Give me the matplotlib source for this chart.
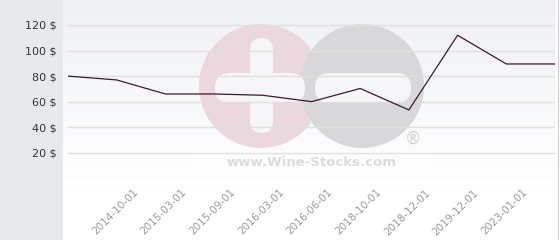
import matplotlib
matplotlib.use("Agg")
import matplotlib.pyplot as plt
import matplotlib.transforms as mtransforms
from matplotlib.patches import Circle, FancyBboxPatch, Rectangle
import numpy as np

# ---- data ----
prices = [80, 77, 66, 66, 65, 60, 70.3, 53.5, 112, 89.5, 89.5]
tick_labels = ["2014-10-01", "2015-03-01", "2015-09-01", "2016-03-01", "2016-06-01",
               "2018-10-01", "2018-12-01", "2019-12-01", "2023-01-01"]
y_ticks = [20, 40, 60, 80, 100, 120]
grid_values = [0, 20, 40, 60, 80, 100, 120]

W, H = 560, 240
fig = plt.figure(figsize=(W / 100, H / 100), dpi=100)
fig.patch.set_facecolor("#ffffff")

def px(x0, y0, x1, y1):
    # convert pixel box (top-left origin) to figure fraction
    return [x0 / W, 1 - y1 / H, (x1 - x0) / W, (y1 - y0) / H]

# left panel
fig.patches.append(Rectangle((0, 0), 63 / W, 1, transform=fig.transFigure,
                             facecolor="#e6eaed", edgecolor="none", zorder=0))
# right border
fig.patches.append(Rectangle((557.5 / W, 0), 1.2 / W, 1, transform=fig.transFigure,
                             facecolor="#c8c8c8", edgecolor="none", zorder=0))

# gradient background
bg = fig.add_axes(px(63, 0, 556, 240), zorder=0)
grad = np.linspace(0, 1, 256).reshape(-1, 1)
top = np.array([0xef, 0xf1, 0xf5]) / 255
bot = np.array([1.0, 1.0, 1.0])
t = np.clip(grad / 0.8, 0, 1)
img = top * (1 - t) + bot * t
img = img.reshape(256, 1, 3)
bg.imshow(img, aspect="auto", extent=[0, 1, 0, 1], origin="upper")
bg.set_axis_off()

# watermark layer in pixel coordinates
wm = fig.add_axes([0, 0, 1, 1], zorder=1)
wm.set_xlim(0, W)
wm.set_ylim(H, 0)
wm.set_axis_off()
wm.patch.set_alpha(0)
pink = "#ebd7de"
gray = "#d8d8db"
hole = "#f6f6f9"
wm.add_patch(Circle((261, 86), 62, facecolor=pink, edgecolor="none"))
wm.add_patch(Circle((362, 86), 62, facecolor=gray, edgecolor="none"))
wm.add_patch(FancyBboxPatch((250, 38), 23, 95, boxstyle="round,pad=0,rounding_size=11.5",
                            facecolor=hole, edgecolor="none"))
wm.add_patch(FancyBboxPatch((215, 73), 90, 30, boxstyle="round,pad=0,rounding_size=15",
                            facecolor=hole, edgecolor="none"))
wm.add_patch(FancyBboxPatch((315, 73), 96, 30, boxstyle="round,pad=0,rounding_size=15",
                            facecolor=hole, edgecolor="none"))
wm.add_patch(Rectangle((197, 152), 232, 22, facecolor="white", alpha=0.6, edgecolor="none"))
wm.text(312, 162, "www.Wine-Stocks.com", ha="center", va="center", fontsize=9.5,
        fontweight="bold", color="#dcdcdc", family="DejaVu Sans")
wm.text(413, 139, "\u00ae", ha="center", va="center", fontsize=12, color="#d2d2d2",
        family="DejaVu Sans")

# main axes
ax = fig.add_axes(px(68, 0, 555, 178.3), zorder=2)
ax.patch.set_alpha(0)
x = np.arange(len(prices))
ax.set_xlim(0, len(prices) - 1)
ax.set_ylim(0, 178.3 / 1.2775)
for g in grid_values:
    ax.axhline(g, color="#e0e0e0", linewidth=1.0, zorder=1)
ax.plot(x, prices, color="#3b1a2c", linewidth=0.9, zorder=3)

ax.set_yticks(y_ticks)
ax.set_yticklabels([f"{v} $" for v in y_ticks], fontsize=8, color="#333333")
ax.tick_params(axis="y", length=0, pad=8)

ax.set_xticks(np.arange(1, 1 + len(tick_labels)))
ax.set_xticklabels(tick_labels, rotation=45, ha="right", va="top",
                   rotation_mode="anchor", fontsize=7.5, color="#999999")
ax.tick_params(axis="x", length=0, pad=0)
offset = mtransforms.ScaledTranslation(16 / 100, -9 / 100, fig.dpi_scale_trans)
for lab in ax.get_xticklabels():
    lab.set_transform(lab.get_transform() + offset)

for s in ax.spines.values():
    s.set_visible(False)

fig.savefig("out.png", dpi=100)
